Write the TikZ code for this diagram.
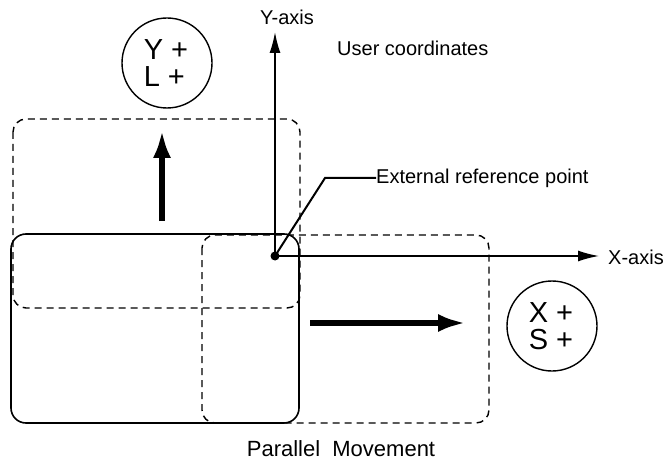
\documentclass[tikz,border=0pt]{standalone}
\usepackage{fontspec}
\setmainfont{Liberation Sans}
\usetikzlibrary{arrows.meta}
\begin{document}
\begin{tikzpicture}[x=1pt,y=-1pt,
  lbl/.style={font=\fontsize{20}{24}\selectfont, inner sep=0pt},
  big/.style={font=\fontsize{29}{27}\selectfont, inner sep=0pt, align=left},
  dashbox/.style={draw, line width=1.4pt, dash pattern=on 7pt off 5pt, rounded corners=13pt},
  solidbox/.style={draw, line width=1.6pt, rounded corners=15pt},
  axis/.style={line width=1.6pt, -{Latex[length=21pt,width=11pt]}},
  move/.style={line width=6pt, -{Latex[length=28pt,width=18pt]}},
  ring/.style={draw, line width=1.4pt, circle, minimum size=90pt, inner sep=0pt}]
\useasboundingbox (0,0) rectangle (669,465);
% boxes
\draw[dashbox] (13,119) rectangle (300,308);
\draw[dashbox] (202,235) rectangle (489,423);
\draw[solidbox] (11,234) rectangle (299,423);
% reference point and axes
\coordinate (o) at (275,256);
\coordinate (ytip) at (275,32);
\coordinate (xtip) at (599,256);
\draw[axis] (o) -- (ytip);
\draw[axis] (o) -- (xtip);
\fill (o) circle (4.5pt);
\node[lbl] (ylab) at (287,17) {Y-axis};
\node[lbl, anchor=west] (xlab) at (608,257) {X-axis};
\node[lbl, anchor=west] (user) at (337,48) {User coordinates};
% leader
\node[lbl, anchor=west] (ext) at (376,178) {External reference point};
\coordinate (bend) at (325,178);
\draw[line width=2pt] (o) -- (bend) -- (ext.west);
% movement arrows
\coordinate (ua) at (162,221);
\coordinate (ub) at (162,130);
\draw[move] (ua) -- (ub);
\coordinate (ra) at (310,323);
\coordinate (rb) at (466,323);
\draw[move] (ra) -- (rb);
% circles
\node[ring] (yl) at (167,63) {};
\node[big] (yltext) at ([xshift=-1pt]yl) {Y +\\L +};
\node[ring] (xs) at (552,326) {};
\node[big] (xstext) at ([xshift=-1pt]xs) {X +\\S +};
\node[lbl, font=\fontsize{22}{26}\selectfont] (par) at (341,449) {Parallel\ \ Movement};
\end{tikzpicture}
\end{document}
